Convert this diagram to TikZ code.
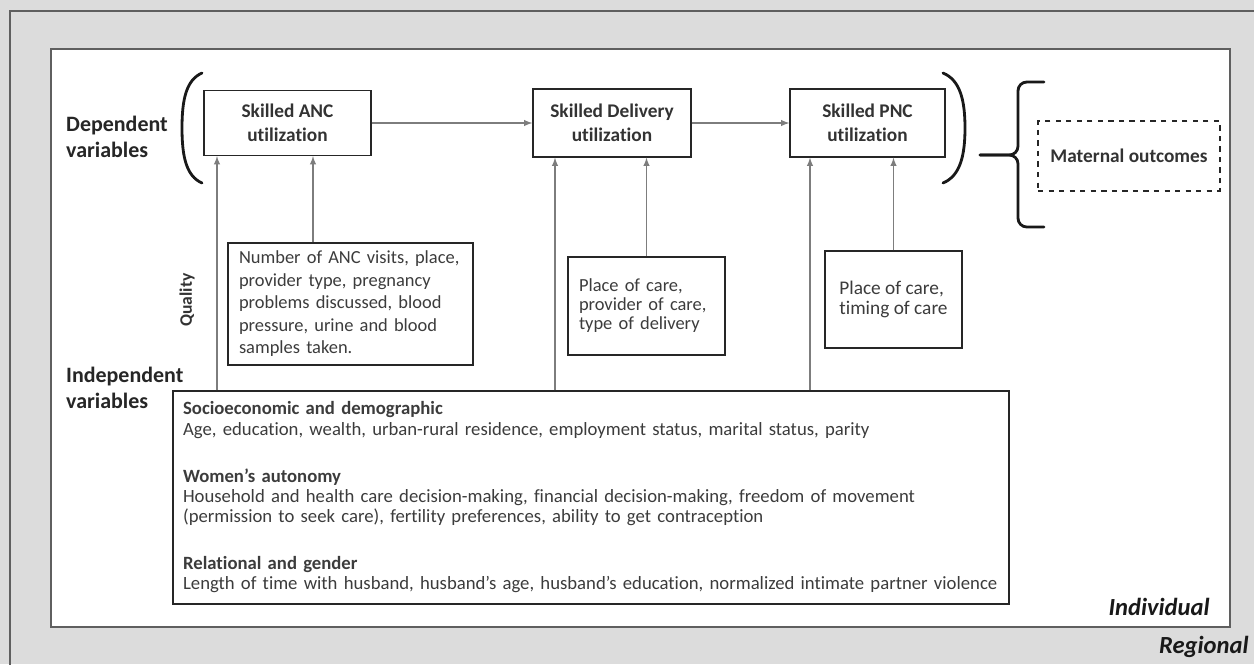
\documentclass[tikz,border=0pt]{standalone}
\usepackage{fontspec}
\setmainfont{Carlito}[Ligatures=NoCommon]
\usepackage{tikz}
\usetikzlibrary{positioning}
\definecolor{framegray}{RGB}{220,220,220}
\definecolor{edgegray}{RGB}{95,95,95}
\definecolor{linegray}{RGB}{125,125,125}
\definecolor{textgray}{RGB}{60,60,60}
\tikzstyle{frame_line}=[draw=edgegray, line width=1pt]
\tikzstyle{util_box}=[draw=black!85, line width=0.8pt, align=center, inner sep=0pt,
    font=\fontsize{11}{13.5}\selectfont\bfseries, text=black!80]
\tikzstyle{quality_box}=[draw=black!85, line width=0.8pt, align=left, inner xsep=0.22cm,
    inner ysep=0pt, font=\fontsize{10.5}{12.8}\selectfont, text=textgray]
\tikzstyle{outcome_box}=[util_box, dashed, line width=0.7pt]
\tikzstyle{arrow_line}=[-latex, draw=linegray, line width=0.6pt]
\tikzstyle{var_label}=[anchor=west, align=left, font=\fontsize{12.5}{14.5}\selectfont\bfseries, text=black!85]
\tikzstyle{level_label}=[anchor=east, inner sep=0pt, font=\fontsize{14}{16}\selectfont\bfseries\itshape, text=black!90]
\tikzstyle{bracket}=[line width=1.6pt, black!90, line cap=round]

\begin{document}
\begin{tikzpicture}[x=0.02cm, y=-0.02cm]
\useasboundingbox (0,0) rectangle (1254,664);
\clip (0,0) rectangle (1254,664);
% regional and individual frames
\fill[framegray] (0,0) rectangle (1254,664);
\draw[frame_line] (10,11) rectangle (1280,690);
\draw[frame_line, fill=white] (51,49) rectangle (1230,627);
\node[level_label] (indiv) at (1210,607){Individual};
\node[level_label] (region) at (1249,647){Regional};
% dependent variables
\node[var_label] (dep) at (60,137){Dependent\\variables};
\node[util_box, minimum width=3.34cm, minimum height=1.30cm] (anc) at (287.5,123){Skilled ANC\\utilization};
\node[util_box, minimum width=3.16cm, minimum height=1.36cm] (dlv) at (612,123){Skilled Delivery\\utilization};
\node[util_box, minimum width=3.10cm, minimum height=1.36cm] (pnc) at (867.5,123){Skilled PNC\\utilization};
\node[outcome_box, minimum width=3.64cm, minimum height=1.40cm] (outc) at (1129,156){Maternal outcomes};
\draw[arrow_line] (anc.east) -- (dlv.west);
\draw[arrow_line] (dlv.east) -- (pnc.west);
\draw[bracket] (202,73) .. controls (186,80) and (182,100) .. (182,128) .. controls (182,156) and (186,176) .. (202,183);
\draw[bracket] (943,73) .. controls (960,80) and (965,100) .. (965,128) .. controls (965,156) and (960,176) .. (943,183);
\draw[bracket, rounded corners=5pt] (1044,82) -- (1018,82) -- (1018,155) -- (980,155);
\draw[bracket, rounded corners=5pt] (1044,227) -- (1018,227) -- (1018,155) -- (980,155);
% quality
\node[rotate=90, font=\fontsize{10}{12}\selectfont\bfseries, text=black!80] (qual) at (187,300){Quality};
\node[quality_box, text width=4.46cm, minimum height=2.44cm] (ancq) at (350.5,304){Number of ANC visits, place,\\provider type, pregnancy\\problems discussed, blood\\pressure, urine and blood\\samples taken.};
\node[quality_box, text width=2.70cm, minimum height=1.96cm, font=\fontsize{10.5}{10.8}\selectfont] (dlvq) at (646.5,306){Place of care,\\provider of care,\\type of delivery};
\node[quality_box, minimum width=2.74cm, minimum height=1.94cm, font=\fontsize{11}{11.4}\selectfont] (pncq) at (893.5,299.5){Place of care,\\timing of care};
\coordinate (ancx) at (313,0);
\draw[arrow_line] (ancq.north -| ancx) -- (anc.south -| ancx);
\draw[arrow_line] (dlvq.north) -- (dlvq.north |- dlv.south);
\draw[arrow_line] (pncq.north) -- (pncq.north |- pnc.south);
% independent variables
\node[var_label] (indep) at (60,388){Independent\\variables};
\node[quality_box, text width=16.32cm, minimum height=4.26cm, inner xsep=0.2cm, font=\fontsize{10.65}{11.6}\selectfont] (socio) at (591,497.5){%
\textbf{Socioeconomic and demographic}\\
Age, education, wealth, urban-rural residence, employment status, marital status, parity\\[15pt]
\textbf{Women’s autonomy}\\
Household and health care decision-making, financial decision-making, freedom of movement\\
(permission to seek care), fertility preferences, ability to get contraception\\[15pt]
\textbf{Relational and gender}\\
Length of time with husband, husband’s age, husband’s education, normalized intimate partner violence};
\coordinate (x1) at (217,0);
\coordinate (x2) at (555,0);
\coordinate (x3) at (810,0);
\draw[arrow_line] (socio.north -| x1) -- (anc.south -| x1);
\draw[arrow_line] (socio.north -| x2) -- (dlv.south -| x2);
\draw[arrow_line] (socio.north -| x3) -- (pnc.south -| x3);
\end{tikzpicture}
\end{document}
